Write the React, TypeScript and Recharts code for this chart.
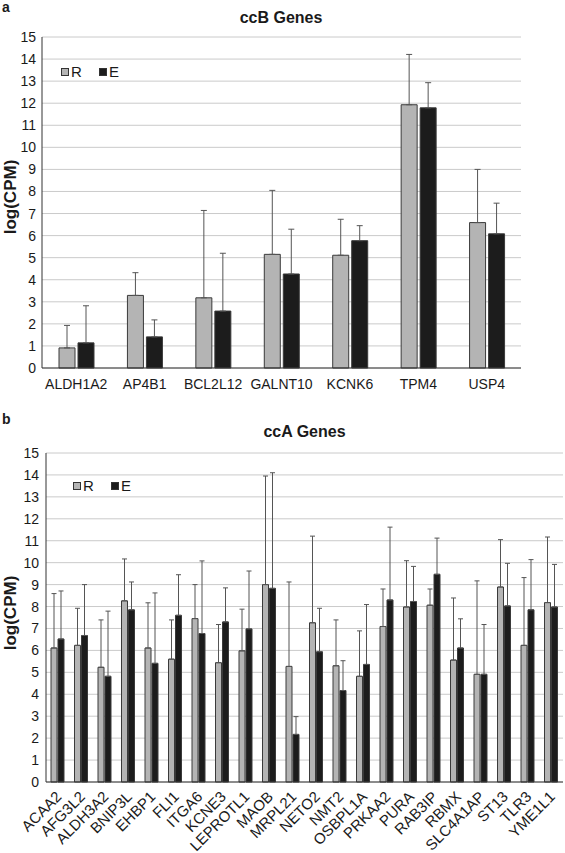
import React from 'react';
import { BarChart, Bar, XAxis, YAxis, CartesianGrid, ErrorBar } from 'recharts';

// ccB panel (a)
const ccbGenes = ['ALDH1A2', 'AP4B1', 'BCL2L12', 'GALNT10', 'KCNK6', 'TPM4', 'USP4'];
const ccbR = [0.91, 3.29, 3.18, 5.15, 5.11, 11.93, 6.59];
const ccbRTop = [1.93, 4.32, 7.14, 8.05, 6.74, 14.21, 9.0];
const ccbE = [1.14, 1.41, 2.58, 4.26, 5.77, 11.79, 6.08];
const ccbETop = [2.82, 2.18, 5.2, 6.29, 6.45, 12.93, 7.47];

// ccA panel (b)
const ccaGenes = [
  'ACAA2', 'AFG3L2', 'ALDH3A2', 'BNIP3L', 'EHBP1', 'FLI1', 'ITGA6', 'KCNE3',
  'LEPROTL1', 'MAOB', 'MRPL21', 'NETO2', 'NMT2', 'OSBPL1A', 'PRKAA2', 'PURA',
  'RAB3IP', 'RBMX', 'SLC4A1AP', 'ST13', 'TLR3', 'YME1L1',
];
const ccaR = [6.11, 6.23, 5.23, 8.26, 6.11, 5.6, 7.45, 5.44, 5.98, 9.0, 5.27, 7.26, 5.3, 4.82, 7.09, 7.98, 8.06, 5.56, 4.91, 8.89, 6.23, 8.18];
const ccaRTop = [8.59, 7.92, 7.39, 10.17, 8.17, 7.39, 9.0, 7.18, 7.88, 13.95, 9.12, 11.21, 7.39, 6.89, 8.8, 10.09, 8.8, 8.39, 9.17, 11.05, 9.32, 11.17];
const ccaE = [6.52, 6.68, 4.82, 7.85, 5.41, 7.6, 6.77, 7.3, 6.98, 8.83, 2.17, 5.94, 4.17, 5.36, 8.3, 8.23, 9.47, 6.11, 4.91, 8.03, 7.85, 7.98];
const ccaETop = [8.71, 9.0, 7.79, 9.12, 8.62, 9.45, 10.08, 8.85, 9.62, 14.1, 2.98, 7.92, 5.53, 8.09, 11.62, 9.83, 11.12, 7.44, 7.18, 9.97, 10.14, 9.92];

const yTicks = [0, 1, 2, 3, 4, 5, 6, 7, 8, 9, 10, 11, 12, 13, 14, 15];

const FONT = 'Arial, "Liberation Sans", sans-serif';
const R_FILL = '#b4b4b4';
const E_FILL = '#1c1c1c';
const BAR_STROKE = '#3a3a3a';
const ERR_STROKE = '#555555';
const GRID = '#cacaca';
const BORDER = '#333333';
const TEXT = '#1a1a1a';

// one-sided (upper) error bars: [low, high]
function buildRows(genes: string[], r: number[], rTop: number[], e: number[], eTop: number[]) {
  return genes.map((gene, i) => ({
    gene,
    R: r[i],
    E: e[i],
    rErr: [0, +(rTop[i] - r[i]).toFixed(2)],
    eErr: [0, +(eTop[i] - e[i]).toFixed(2)],
  }));
}

const ccbRows = buildRows(ccbGenes, ccbR, ccbRTop, ccbE, ccbETop);
const ccaRows = buildRows(ccaGenes, ccaR, ccaRTop, ccaE, ccaETop);

function SlantTick({ x, y, payload }: any) {
  return (
    <g transform={`translate(${x + 1},${y + 4})`}>
      <text x={0} y={0} dy="0.35em" textAnchor="end" transform="rotate(-45)" fontSize={15} fill={TEXT} fontFamily={FONT}>
        {payload.value}
      </text>
    </g>
  );
}

function LegendKey({ left, top }: { left: number; top: number }) {
  const item = (label: string, color: string, width: number) => (
    <div style={{ display: 'flex', alignItems: 'center', width }}>
      <span style={{ width: 6, height: 6, background: color, border: `1px solid ${BORDER}`, display: 'inline-block' }} />
      <span style={{ marginLeft: 2, fontSize: 15, lineHeight: '15px', color: TEXT }}>{label}</span>
    </div>
  );
  return (
    <div style={{ position: 'absolute', left, top, display: 'flex', fontFamily: FONT }}>
      {item('R', R_FILL, 38)}
      {item('E', E_FILL, 20)}
    </div>
  );
}

function PanelText({ letter, title, top, titleTop, titleLeft, titleWidth, axisTop }: any) {
  return (
    <>
      <div style={{ position: 'absolute', left: 2, top, fontSize: 14, fontWeight: 'bold', fontFamily: FONT, color: TEXT, lineHeight: '14px' }}>
        {letter}
      </div>
      <div style={{ position: 'absolute', left: titleLeft, width: titleWidth, top: titleTop, textAlign: 'center', fontSize: 16, fontWeight: 'bold', fontFamily: FONT, color: TEXT, lineHeight: '18px' }}>
        {title}
      </div>
      <div style={{ position: 'absolute', left: 11, top: axisTop, width: 0, height: 0 }}>
        <div style={{ transform: 'translate(-50%, -50%) rotate(-90deg)', whiteSpace: 'nowrap', fontSize: 17, fontWeight: 'bold', fontFamily: FONT, color: TEXT, lineHeight: '18px', display: 'inline-block', position: 'absolute' }}>
          log(CPM)
        </div>
      </div>
    </>
  );
}

export default function App() {
  return (
    <div style={{ position: 'absolute', left: 0, top: 0, width: 565, height: 853, background: '#fff', overflow: 'hidden', fontFamily: FONT }}>
      {/* panel a */}
      <div style={{ position: 'absolute', left: 0, top: 0 }}>
        <BarChart width={565} height={400} data={ccbRows} margin={{ top: 37, right: 44, left: 0, bottom: 0 }} barGap={3} barSize={16}>
          <CartesianGrid vertical={false} stroke={GRID} />
          <XAxis dataKey="gene" interval={0} tickLine={false} stroke={BORDER} height={32} tickMargin={5}
            tick={{ fontSize: 14, fill: TEXT, fontFamily: FONT }} />
          <XAxis xAxisId="top" dataKey="gene" orientation="top" height={0} tick={false} tickLine={false} stroke={BORDER} />
          <YAxis domain={[0, 15]} ticks={yTicks} interval={0} width={42} tickLine={false} tickSize={4} tickMargin={2} stroke={BORDER}
            tick={{ fontSize: 14, fill: TEXT, fontFamily: FONT }} />
          <YAxis yAxisId="right" orientation="right" domain={[0, 15]} width={0} tick={false} tickLine={false} stroke={BORDER} />
          <Bar dataKey="R" fill={R_FILL} stroke={BAR_STROKE} strokeWidth={1} isAnimationActive={false}>
            <ErrorBar dataKey="rErr" width={3} stroke={ERR_STROKE} strokeWidth={1} direction="y" />
          </Bar>
          <Bar dataKey="E" fill={E_FILL} stroke={BAR_STROKE} strokeWidth={1} isAnimationActive={false}>
            <ErrorBar dataKey="eErr" width={3} stroke={ERR_STROKE} strokeWidth={1} direction="y" />
          </Bar>
        </BarChart>
      </div>
      <PanelText letter="a" title="ccB Genes" top={0} titleTop={9} titleLeft={42} titleWidth={478} axisTop={197} />
      <LegendKey left={61} top={64} />

      {/* panel b */}
      <div style={{ position: 'absolute', left: 0, top: 410 }}>
        <BarChart width={565} height={443} data={ccaRows} margin={{ top: 43, right: 2, left: 0, bottom: 0 }} barGap={1} barSize={6}>
          <CartesianGrid vertical={false} stroke={GRID} />
          <XAxis dataKey="gene" interval={0} tickLine={false} stroke={BORDER} height={71} tick={<SlantTick />} />
          <XAxis xAxisId="top" dataKey="gene" orientation="top" height={0} tick={false} tickLine={false} stroke={BORDER} />
          <YAxis domain={[0, 15]} ticks={yTicks} interval={0} width={46} tickLine={false} tickSize={5} tickMargin={2} stroke={BORDER}
            tick={{ fontSize: 14, fill: TEXT, fontFamily: FONT }} />
          <YAxis yAxisId="right" orientation="right" domain={[0, 15]} width={0} tick={false} tickLine={false} stroke={BORDER} />
          <Bar dataKey="R" fill={R_FILL} stroke={BAR_STROKE} strokeWidth={1} isAnimationActive={false}>
            <ErrorBar dataKey="rErr" width={2.5} stroke={ERR_STROKE} strokeWidth={1} direction="y" />
          </Bar>
          <Bar dataKey="E" fill={E_FILL} stroke={BAR_STROKE} strokeWidth={1} isAnimationActive={false}>
            <ErrorBar dataKey="eErr" width={2.5} stroke={ERR_STROKE} strokeWidth={1} direction="y" />
          </Bar>
        </BarChart>
      </div>
      <PanelText letter="b" title="ccA Genes" top={412} titleTop={423} titleLeft={46} titleWidth={517} axisTop={613} />
      <LegendKey left={73} top={478} />
    </div>
  );
}
